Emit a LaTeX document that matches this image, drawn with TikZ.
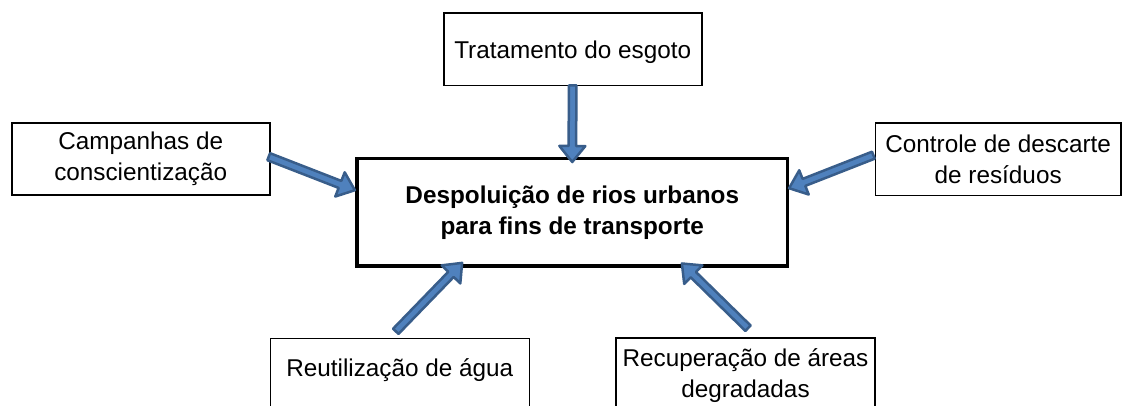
\documentclass[tikz,border=0pt]{standalone}
\usepackage{fontspec}
\setmainfont{Liberation Sans}
\usetikzlibrary{calc}
\definecolor{arrfill}{RGB}{79,129,189}
\definecolor{arrline}{RGB}{56,93,138}
\newcommand\txtfont{\fontsize{24.3}{31}\selectfont}
\newcommand\fatarrow[2]{%
  \draw[fatarr] let \p1=($(#2)-(#1)$), \n1={atan2(\y1,\x1)}, \n2={veclen(\x1,\y1)} in
    [shift={(#1)}, rotate=\n1]
    (0pt,3.75pt) -- ({\n2-16pt},3.75pt) -- ({\n2-16pt},13pt) -- (\n2,0pt)
    -- ({\n2-16pt},-13pt) -- ({\n2-16pt},-3.75pt) -- (0pt,-3.75pt) -- cycle;}
\tikzset{
  box/.style={draw=black, line width=1.6pt, align=center, font=\txtfont, inner sep=0pt, outer sep=0pt},
  mainbox/.style={draw=black, line width=3.5pt, align=center, font=\bfseries\txtfont, inner sep=0pt, outer sep=0pt},
  fatarr/.style={fill=arrfill, draw=arrline, line width=2.5pt, line join=round}
}
\begin{document}
\begin{tikzpicture}[x=1pt, y=-1pt]
\useasboundingbox (0,0) rectangle (1123,405);
\fill[white] (0,0) rectangle (1123,405);
\clip (0,0) rectangle (1123,405);

\node[mainbox, minimum width=430.5pt, minimum height=107.5pt] (main) at (572.25,212.25)
  {Despoluição de rios urbanos\\para fins de transporte};
\node[box, minimum width=258pt, minimum height=72.3pt, text height=18pt, text depth=0pt] (top) at (572.7,49.2)
  {Tratamento do esgoto};
\node[box, minimum width=258pt, minimum height=72pt] (camp) at (140.7,158.7)
  {Campanhas de\\conscientização};
\node[box, minimum width=245.7pt, minimum height=72.3pt] (ctrl) at (998.2,159.2)
  {Controle de descarte\\de resíduos};
\node[box, anchor=north, minimum width=259pt, inner ysep=19.7pt, text height=18pt, text depth=60pt] (reut) at (399.8,338.3)
  {Reutilização de água};
\node[box, anchor=north, minimum width=259pt, inner ysep=11.2pt, text depth=70pt] (recup) at (745.5,337.7)
  {Recuperação de áreas\\degradadas};

\coordinate (a1s) at (top.south);
\coordinate (a1e) at ($(main.north)+(0,3.5)$);
\coordinate (a2s) at ($(camp.east)+(-1,-2)$);
\coordinate (a2e) at ($(main.west)+(-2,-22)$);
\coordinate (a3s) at ($(ctrl.west)+(-2,-4)$);
\coordinate (a3e) at ($(main.east)+(1.5,-24)$);
\coordinate (a4s) at ($(reut.north)+(-4,-7)$);
\coordinate (a4e) at ($(main.south west)+(105.3,-3.3)$);
\coordinate (a5s) at ($(recup.north)+(2.5,-9.5)$);
\coordinate (a5e) at ($(main.south west)+(324.7,-2.7)$);

\fatarrow{a1s}{a1e}
\fatarrow{a2s}{a2e}
\fatarrow{a3s}{a3e}
\fatarrow{a4s}{a4e}
\fatarrow{a5s}{a5e}
\end{tikzpicture}
\end{document}
